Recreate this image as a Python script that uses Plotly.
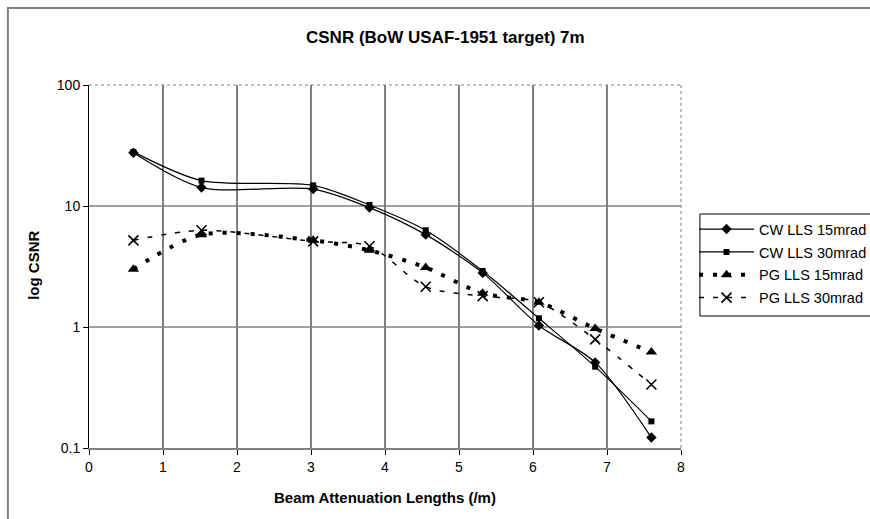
import plotly.graph_objects as go

x_vals = [0.6, 1.52, 3.03, 3.79, 4.55, 5.32, 6.08, 6.84, 7.6]
cw15 = [27.5, 14.2, 13.8, 9.7, 5.8, 2.8, 1.03, 0.51, 0.122]
cw30 = [28.0, 16.2, 14.8, 10.2, 6.3, 2.9, 1.18, 0.47, 0.166]
pg15 = [3.0, 5.8, 5.2, 4.3, 3.1, 1.9, 1.6, 0.97, 0.62]
pg30 = [5.2, 6.3, 5.1, 4.65, 2.15, 1.8, 1.6, 0.79, 0.335]

series_names = ["CW LLS 15mrad", "CW LLS 30mrad", "PG LLS 15mrad", "PG LLS 30mrad"]
x_ticks = [0, 1, 2, 3, 4, 5, 6, 7, 8]
y_ticks = [0.1, 1, 10, 100]
y_ticktext = ["0.1", "1", "10", "100"]
y_grid = [1, 10]
x_grid = [1, 2, 3, 4, 5, 6, 7]

FONT = "Liberation Sans, Arial, sans-serif"

fig = go.Figure()
fig.add_trace(go.Scatter(
    x=x_vals, y=cw15, name=series_names[0], mode="lines+markers", legendgroup="a",
    line=dict(color="black", width=1.2, shape="spline", smoothing=0.8),
    marker=dict(symbol="diamond", size=8, color="black")))
fig.add_trace(go.Scatter(
    x=x_vals, y=cw30, name=series_names[1], mode="lines+markers", legendgroup="b",
    line=dict(color="black", width=1.2, shape="spline", smoothing=0.8),
    marker=dict(symbol="square", size=6, color="black")))
fig.add_trace(go.Scatter(
    x=x_vals, y=pg15, name=series_names[2], mode="lines+markers", legendgroup="c",
    line=dict(color="black", width=4, dash="4px,10px", shape="spline", smoothing=0.8),
    marker=dict(symbol="triangle-up", size=10, color="black")))
fig.add_trace(go.Scatter(
    x=x_vals, y=pg30, name=series_names[3], mode="lines+markers", legendgroup="d",
    line=dict(color="black", width=1.5, dash="5px,9px", shape="spline", smoothing=0.8),
    marker=dict(symbol="x-thin", size=10, color="black", line=dict(color="black", width=1.6))))

shapes = []
for gx in x_grid:
    shapes.append(dict(type="line", xref="x", yref="paper", x0=gx, x1=gx, y0=0, y1=1,
                       line=dict(color="black", width=1), layer="below"))
for gy in y_grid:
    shapes.append(dict(type="line", xref="paper", yref="y", x0=0, x1=1, y0=gy, y1=gy,
                       line=dict(color="#808080", width=1.5), layer="below"))
# dotted plot border top/right
shapes.append(dict(type="line", xref="paper", yref="paper", x0=0, x1=1, y0=1, y1=1,
                   line=dict(color="#808080", width=1, dash="dot")))
shapes.append(dict(type="line", xref="paper", yref="paper", x0=1, x1=1, y0=0, y1=1,
                   line=dict(color="#808080", width=1, dash="dot")))
# outer chart border
shapes.append(dict(type="rect", xref="paper", yref="paper", x0=-0.137, x1=1.5, y0=-0.3, y1=1.212,
                   line=dict(color="#808080", width=2)))
# legend border
shapes.append(dict(type="rect", xref="paper", yref="paper", x0=1.032, x1=1.4, y0=0.3636, y1=0.6446,
                   line=dict(color="black", width=1)))

fig.update_layout(
    width=870, height=519,
    margin=dict(l=89, r=189, t=85, b=71, autoexpand=False),
    paper_bgcolor="white", plot_bgcolor="white",
    font=dict(family=FONT, size=14, color="black"),
    showlegend=True,
    legend=dict(x=1.022, y=0.647, xanchor="left", yanchor="top",
                bgcolor="rgba(0,0,0,0)", borderwidth=0,
                font=dict(family=FONT, size=14.5, color="black"),
                tracegroupgap=1, itemwidth=55),
    xaxis=dict(range=[0, 8], tickvals=x_ticks, showgrid=False, zeroline=False,
               showline=True, linecolor="#808080", linewidth=2,
               ticks="outside", ticklen=5, tickcolor="black", tickwidth=1,
               tickfont=dict(size=14)),
    yaxis=dict(type="log", range=[-1, 2], tickvals=y_ticks, ticktext=y_ticktext,
               showgrid=False, zeroline=False,
               showline=True, linecolor="black", linewidth=1,
               ticks="outside", ticklen=5, tickcolor="black", tickwidth=1,
               tickfont=dict(size=14)),
    shapes=shapes,
    annotations=[
        dict(text="<b>CSNR (BoW USAF-1951 target) 7m</b>", xref="paper", yref="paper",
             x=0.603, y=1.13, xanchor="center", yanchor="middle", showarrow=False,
             font=dict(size=17)),
        dict(text="<b>log CSNR</b>", xref="paper", yref="paper",
             x=-0.095, y=0.504, xanchor="center", yanchor="middle", showarrow=False,
             textangle=-90, font=dict(size=15)),
        dict(text="<b>Beam Attenuation Lengths (/m)</b>", xref="paper", yref="paper",
             x=0.4995, y=-0.135, xanchor="center", yanchor="middle", showarrow=False,
             font=dict(size=15)),
    ],
)

fig.write_html("out.html", config={"displayModeBar": False},
               post_script="document.body.style.margin='0';")
